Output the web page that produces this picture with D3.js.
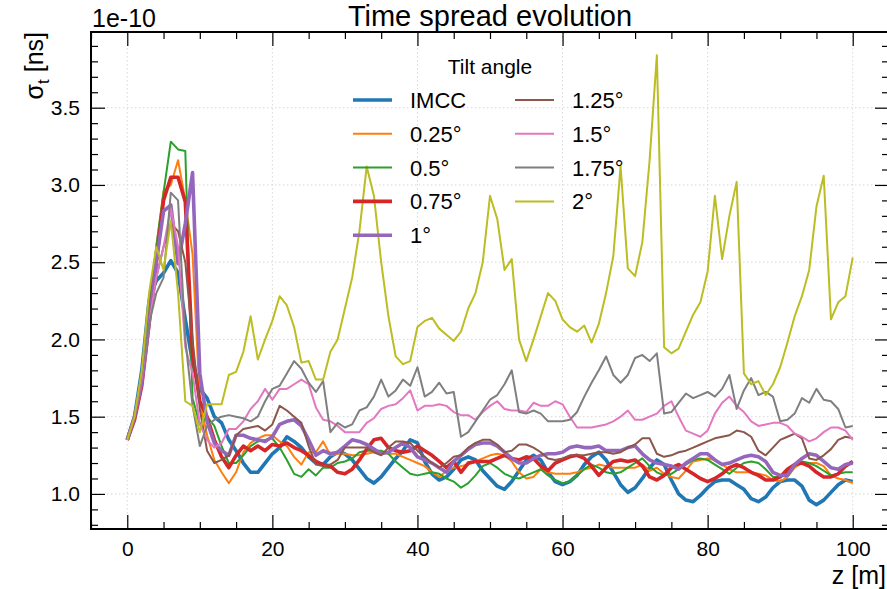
<!DOCTYPE html>
<html>
<head>
<meta charset="utf-8">
<script src="https://cdn.jsdelivr.net/npm/d3@7"></script>
<style>
  body { margin: 0; background: #fff; }
  svg { font-family: "Liberation Sans", Arial, sans-serif; }
</style>
</head>
<body>
<svg id="chart" width="887" height="589"></svg>
<script>
// z positions, 1 m steps
const zValues = d3.range(0, 101);

// sigma_t in units of 1e-10 ns
const imcc = [1.35,1.5,1.8,2.25,2.38,2.43,2.51,2.43,2.13,1.85,1.68,1.62,1.5,1.46,1.35,1.28,1.2,1.14,1.14,1.2,
  1.26,1.3,1.37,1.34,1.3,1.24,1.2,1.19,1.24,1.27,1.26,1.22,1.16,1.1,1.07,1.11,1.17,1.23,1.28,1.35,
  1.33,1.21,1.13,1.09,1.11,1.16,1.22,1.24,1.22,1.15,1.1,1.05,1.03,1.08,1.15,1.22,1.25,1.22,1.14,1.08,
  1.06,1.08,1.12,1.19,1.24,1.27,1.22,1.14,1.06,1.01,1.04,1.1,1.17,1.22,1.19,1.09,1.0,0.96,0.95,0.99,
  1.04,1.08,1.09,1.09,1.06,1.03,0.97,0.95,0.98,1.04,1.08,1.09,1.09,1.05,0.96,0.93,0.96,1.01,1.06,1.09,1.08];
const tilt025 = [1.35,1.5,1.75,2.2,2.6,2.96,3.0,3.16,2.9,2.55,1.6,1.38,1.22,1.14,1.07,1.14,1.27,1.33,1.36,1.38,
  1.38,1.34,1.31,1.24,1.19,1.27,1.27,1.34,1.25,1.26,1.26,1.25,1.25,1.26,1.27,1.27,1.26,1.26,1.24,1.22,
  1.2,1.18,1.14,1.11,1.15,1.17,1.18,1.19,1.21,1.23,1.25,1.26,1.25,1.21,1.14,1.1,1.11,1.16,1.14,1.13,
  1.13,1.13,1.14,1.16,1.17,1.19,1.18,1.17,1.17,1.17,1.17,1.19,1.15,1.17,1.13,1.11,1.1,1.15,1.21,1.22,
  1.23,1.22,1.19,1.16,1.14,1.14,1.14,1.13,1.12,1.09,1.08,1.11,1.17,1.2,1.2,1.2,1.18,1.12,1.1,1.09,1.07];
const tilt05 = [1.35,1.5,1.75,2.2,2.6,2.95,3.28,3.23,3.22,1.62,1.45,1.5,1.44,1.31,1.2,1.2,1.25,1.31,1.34,1.35,
  1.36,1.3,1.22,1.13,1.11,1.16,1.12,1.17,1.17,1.2,1.21,1.23,1.27,1.28,1.28,1.28,1.26,1.21,1.17,1.13,
  1.12,1.13,1.14,1.13,1.1,1.08,1.04,1.07,1.12,1.18,1.2,1.17,1.13,1.11,1.1,1.12,1.14,1.16,1.12,1.09,
  1.07,1.08,1.12,1.16,1.19,1.17,1.14,1.13,1.14,1.17,1.2,1.23,1.18,1.14,1.12,1.13,1.16,1.19,1.22,1.23,
  1.22,1.19,1.16,1.13,1.17,1.2,1.21,1.2,1.16,1.11,1.11,1.14,1.18,1.21,1.2,1.18,1.15,1.12,1.13,1.14,1.14];
const tilt075 = [1.35,1.48,1.7,2.1,2.5,2.9,3.05,3.05,2.89,1.9,1.6,1.5,1.35,1.24,1.17,1.25,1.31,1.28,1.31,1.28,
  1.32,1.31,1.33,1.3,1.28,1.25,1.21,1.19,1.18,1.14,1.13,1.16,1.22,1.29,1.35,1.36,1.3,1.28,1.27,1.28,
  1.31,1.28,1.25,1.21,1.17,1.21,1.14,1.2,1.21,1.21,1.21,1.23,1.25,1.23,1.22,1.24,1.23,1.18,1.15,1.2,
  1.22,1.24,1.25,1.23,1.18,1.12,1.17,1.21,1.22,1.21,1.22,1.18,1.11,1.09,1.12,1.17,1.19,1.16,1.13,1.1,
  1.08,1.1,1.13,1.17,1.19,1.17,1.14,1.12,1.09,1.09,1.11,1.16,1.19,1.2,1.18,1.14,1.11,1.11,1.13,1.18,1.21];
const tilt1 = [1.35,1.5,1.72,2.1,2.5,2.83,2.87,2.49,2.75,3.08,1.78,1.47,1.33,1.28,1.25,1.38,1.38,1.36,1.35,1.34,
  1.37,1.45,1.47,1.48,1.44,1.35,1.25,1.28,1.26,1.27,1.31,1.35,1.34,1.32,1.29,1.26,1.27,1.3,1.33,1.3,
  1.24,1.22,1.2,1.17,1.14,1.21,1.25,1.29,1.32,1.33,1.33,1.31,1.27,1.23,1.2,1.2,1.23,1.25,1.26,1.26,
  1.27,1.3,1.31,1.3,1.3,1.31,1.28,1.28,1.28,1.3,1.31,1.26,1.22,1.2,1.19,1.18,1.16,1.2,1.23,1.26,
  1.26,1.22,1.19,1.2,1.22,1.24,1.25,1.24,1.21,1.14,1.12,1.12,1.19,1.23,1.26,1.25,1.21,1.17,1.16,1.19,1.2];
const tilt125 = [1.35,1.5,1.75,2.1,2.4,2.6,2.75,2.7,2.5,2.0,1.55,1.28,1.2,1.22,1.25,1.38,1.42,1.43,1.44,1.41,
  1.45,1.57,1.54,1.5,1.46,1.31,1.19,1.18,1.19,1.22,1.3,1.3,1.3,1.3,1.27,1.25,1.3,1.34,1.34,1.33,
  1.28,1.24,1.2,1.17,1.2,1.24,1.25,1.3,1.33,1.35,1.35,1.32,1.27,1.28,1.32,1.32,1.3,1.27,1.23,1.22,
  1.23,1.25,1.25,1.25,1.26,1.27,1.27,1.26,1.27,1.3,1.32,1.36,1.36,1.26,1.24,1.25,1.27,1.28,1.3,1.32,
  1.34,1.36,1.37,1.38,1.41,1.4,1.37,1.28,1.25,1.3,1.35,1.37,1.39,1.36,1.23,1.22,1.25,1.29,1.35,1.37,1.36];
const tilt15 = [1.35,1.5,1.75,2.1,2.4,2.6,2.85,2.6,1.95,1.78,1.45,1.35,1.3,1.33,1.42,1.42,1.47,1.55,1.6,1.68,
  1.61,1.68,1.68,1.71,1.74,1.71,1.56,1.48,1.47,1.44,1.4,1.4,1.4,1.46,1.49,1.55,1.57,1.58,1.62,1.67,
  1.54,1.57,1.57,1.58,1.57,1.53,1.51,1.51,1.48,1.53,1.57,1.6,1.55,1.54,1.54,1.53,1.59,1.57,1.57,1.6,
  1.58,1.5,1.43,1.43,1.43,1.44,1.45,1.47,1.5,1.54,1.48,1.48,1.5,1.52,1.57,1.6,1.5,1.41,1.39,1.37,
  1.41,1.52,1.59,1.63,1.57,1.53,1.47,1.44,1.45,1.46,1.46,1.44,1.39,1.37,1.34,1.36,1.4,1.43,1.43,1.41,1.35];
const tilt175 = [1.35,1.5,1.78,2.1,2.3,2.4,2.95,2.9,2.0,1.57,1.31,1.44,1.48,1.5,1.51,1.5,1.49,1.47,1.5,1.6,
  1.68,1.7,1.78,1.86,1.81,1.72,1.66,1.73,1.4,1.46,1.43,1.45,1.54,1.56,1.63,1.74,1.63,1.67,1.74,1.7,
  1.82,1.63,1.66,1.72,1.65,1.66,1.37,1.4,1.47,1.54,1.61,1.64,1.71,1.8,1.53,1.52,1.54,1.52,1.47,1.47,
  1.47,1.48,1.53,1.63,1.72,1.8,1.89,1.77,1.72,1.77,1.88,1.9,1.86,1.91,1.52,1.53,1.59,1.65,1.62,1.64,
  1.66,1.63,1.68,1.77,1.55,1.67,1.75,1.64,1.66,1.63,1.47,1.48,1.52,1.62,1.59,1.68,1.61,1.6,1.55,1.43,1.44];
const tilt2 = [1.35,1.5,1.8,2.3,2.6,2.45,2.77,2.3,1.6,1.57,1.4,1.58,1.58,1.58,1.77,1.79,1.92,2.15,1.87,2.0,
  2.12,2.28,2.22,2.08,1.85,1.86,1.74,1.74,1.92,2.0,2.2,2.4,2.7,3.12,2.93,2.5,2.15,1.89,1.84,1.86,
  2.08,2.12,2.14,2.07,2.03,1.99,2.05,2.2,2.3,2.5,2.93,2.78,2.45,2.52,2.0,1.86,2.0,2.15,2.3,2.25,
  2.13,2.08,2.05,2.09,1.98,2.1,2.3,2.54,3.12,2.46,2.41,2.63,3.16,3.84,1.95,1.91,1.94,2.05,2.16,2.24,
  2.44,2.93,2.52,2.8,3.02,1.78,1.71,1.73,1.64,1.71,1.82,1.98,2.15,2.28,2.45,2.86,3.06,2.13,2.24,2.28,2.53];

const seriesNames = ["IMCC", "0.25°", "0.5°", "0.75°", "1°", "1.25°", "1.5°", "1.75°", "2°"];
const seriesValues = [imcc, tilt025, tilt05, tilt075, tilt1, tilt125, tilt15, tilt175, tilt2];
const colors = ["#1f77b4","#ff7f0e","#2ca02c","#d62728","#9467bd","#8c564b","#e377c2","#7f7f7f","#bcbd22"];
const widths = [3.6, 2, 2, 3.6, 3.6, 2, 2, 2, 2];

const xTicks = [0, 20, 40, 60, 80, 100];
const yTicks = [1.0, 1.5, 2.0, 2.5, 3.0, 3.5];

const svg = d3.select("#chart");
const plotLeft = 91, plotRight = 889, plotTop = 32, plotBottom = 529;

const x = d3.scaleLinear().domain([-5, 105]).range([plotLeft, plotRight]);
const y = d3.scaleLinear().domain([0.773, 3.99]).range([plotBottom, plotTop]);

svg.append("defs").append("clipPath").attr("id", "plotclip")
  .append("rect").attr("x", plotLeft).attr("y", plotTop)
  .attr("width", plotRight - plotLeft).attr("height", plotBottom - plotTop);

// grid
const grid = svg.append("g");
grid.selectAll(".gx").data(xTicks).enter().append("line")
  .attr("x1", d => x(d)).attr("x2", d => x(d)).attr("y1", plotTop).attr("y2", plotBottom)
  .attr("stroke", "#d8d8d8").attr("stroke-width", 1).attr("stroke-dasharray", "1.5,2.5");
grid.selectAll(".gy").data(yTicks).enter().append("line")
  .attr("x1", plotLeft).attr("x2", plotRight).attr("y1", d => y(d)).attr("y2", d => y(d))
  .attr("stroke", "#d8d8d8").attr("stroke-width", 1).attr("stroke-dasharray", "1.5,2.5");

// lines
const line = d3.line().x((d, i) => x(zValues[i])).y(d => y(d));
const lines = svg.append("g").attr("clip-path", "url(#plotclip)");
seriesValues.forEach((vals, k) => {
  lines.append("path").datum(vals)
    .attr("d", line)
    .attr("fill", "none")
    .attr("stroke", colors[k])
    .attr("stroke-width", widths[k])
    .attr("stroke-linejoin", "round");
});

// axes (ticks inside, mirrored)
const majorLen = 14, minorLen = 7;
const tickFont = 21;
const xMinor = d3.range(-5, 106, 5).filter(d => d % 20 !== 0);
const yMinor = d3.range(8, 40).map(d => d / 10).filter(d => Math.round(d * 10) % 5 !== 0);

function styleAxis(g) {
  g.select(".domain").remove();
  g.selectAll(".tick line").attr("stroke", "#000").attr("stroke-width", 1.2);
}

svg.append("g").attr("transform", `translate(0,${plotBottom})`)
  .call(d3.axisBottom(x).tickValues(xTicks).tickSizeInner(-majorLen).tickPadding(12).tickFormat(d3.format("d")))
  .call(styleAxis)
  .call(g => g.selectAll("text").attr("font-size", tickFont).attr("fill", "#000").attr("font-family", "Liberation Sans, Arial, sans-serif"));
svg.append("g").attr("transform", `translate(0,${plotBottom})`)
  .call(d3.axisBottom(x).tickValues(xMinor).tickSizeInner(-minorLen).tickFormat(""))
  .call(styleAxis);
svg.append("g").attr("transform", `translate(0,${plotTop})`)
  .call(d3.axisTop(x).tickValues(xTicks).tickSizeInner(-majorLen).tickFormat(""))
  .call(styleAxis);
svg.append("g").attr("transform", `translate(0,${plotTop})`)
  .call(d3.axisTop(x).tickValues(xMinor).tickSizeInner(-minorLen).tickFormat(""))
  .call(styleAxis);

svg.append("g").attr("transform", `translate(${plotLeft},0)`)
  .call(d3.axisLeft(y).tickValues(yTicks).tickSizeInner(-majorLen).tickPadding(11).tickFormat(d3.format(".1f")))
  .call(styleAxis)
  .call(g => g.selectAll("text").attr("font-size", tickFont).attr("fill", "#000").attr("font-family", "Liberation Sans, Arial, sans-serif"));
svg.append("g").attr("transform", `translate(${plotLeft},0)`)
  .call(d3.axisLeft(y).tickValues(yMinor).tickSizeInner(-minorLen).tickFormat(""))
  .call(styleAxis);
svg.append("g").attr("transform", `translate(${plotRight},0)`)
  .call(d3.axisRight(y).tickValues(yTicks).tickSizeInner(-majorLen).tickFormat(""))
  .call(styleAxis);
svg.append("g").attr("transform", `translate(${plotRight},0)`)
  .call(d3.axisRight(y).tickValues(yMinor).tickSizeInner(-minorLen).tickFormat(""))
  .call(styleAxis);

// frame
svg.append("rect").attr("x", plotLeft).attr("y", plotTop)
  .attr("width", plotRight - plotLeft).attr("height", plotBottom - plotTop)
  .attr("fill", "none").attr("stroke", "#000").attr("stroke-width", 2);

// titles
svg.append("text").attr("x", (plotLeft + plotRight) / 2).attr("y", 26)
  .attr("text-anchor", "middle").attr("font-size", 29).text("Time spread evolution");
svg.append("text").attr("x", plotLeft + 1).attr("y", 27)
  .attr("font-size", 25).text("1e-10");
svg.append("text").attr("x", 886).attr("y", 584)
  .attr("text-anchor", "end").attr("font-size", 25).text("z [m]");

const yl = svg.append("text")
  .attr("transform", `translate(43,${plotTop}) rotate(-90)`)
  .attr("text-anchor", "end").attr("font-size", 25);
yl.append("tspan").text("σ");
yl.append("tspan").attr("font-size", 17).attr("dy", 6).text("t");
yl.append("tspan").attr("dy", -6).text(" [ns]");

// legend
const legend = svg.append("g");
legend.append("text").attr("x", 490).attr("y", 74).attr("text-anchor", "middle")
  .attr("font-size", 21).text("Tilt angle");
seriesNames.forEach((name, k) => {
  const col = k < 5 ? 0 : 1;
  const row = k < 5 ? k : k - 5;
  const lx = col === 0 ? 353 : 515;
  const ly = 100 + row * 33.8;
  legend.append("line").attr("x1", lx).attr("x2", lx + 39).attr("y1", ly).attr("y2", ly)
    .attr("stroke", colors[k]).attr("stroke-width", widths[k]);
  legend.append("text").attr("x", lx + 57).attr("y", ly + 8)
    .attr("font-size", 22).text(name);
});
</script>
</body>
</html>
